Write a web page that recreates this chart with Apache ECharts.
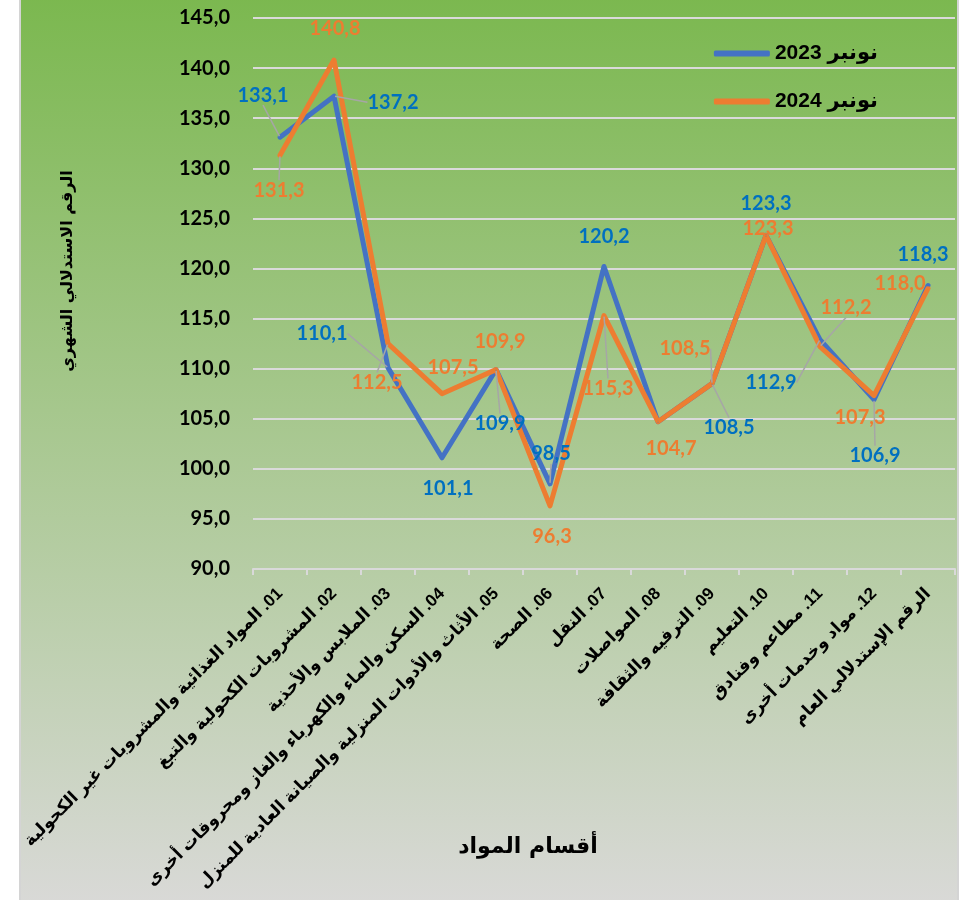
<!DOCTYPE html>
<html>
<head>
<meta charset="utf-8">
<style>
  html, body { margin: 0; padding: 0; background: #fff; }
  #chart { width: 966px; height: 900px; direction: rtl; }
</style>
<script src="https://cdn.jsdelivr.net/npm/echarts@6/dist/echarts.min.js"></script>
</head>
<body>
<div id="chart"></div>
<script>
"use strict";
// ---------------- data ----------------
var categories = [
  "01. المواد الغذائية والمشروبات غير الكحولية",
  "02. المشروبات الكحولية والتبغ",
  "03. الملابس والأحذية",
  "04. السكن والماء والكهرباء والغاز ومحروقات أخرى",
  "05. الأثاث والأدوات المنزلية والصيانة العادية للمنزل",
  "06. الصحة",
  "07. النقل",
  "08. المواصلات",
  "09. الترفيه والثقافة",
  "10. التعليم",
  "11. مطاعم وفنادق",
  "12. مواد وخدمات أخرى",
  "الرقم الإستدلالي العام"
];
var nov2023 = [133.1, 137.2, 110.1, 101.1, 109.9, 98.5, 120.2, 104.7, 108.5, 123.3, 112.9, 106.9, 118.3];
var nov2024 = [131.3, 140.8, 112.5, 107.5, 109.9, 96.3, 115.3, 104.7, 108.5, 123.3, 112.2, 107.3, 118.0];
var seriesNames = ["نونبر 2023", "نونبر 2024"];
var xTitle = 'أقسام المواد', yTitle = 'الرقم الاستدلالي الشهري';

// label placement (dx, dy from the point), hidden labels, leader lines
var off2023 = [[-17,-42],[59,6],[-66,-34],[6,31],[4,54],[1,-30],[0,-30],[0,0],[17,44],[0,-32],[-49,43],[1,56],[-5,-31]];
var off2024 = [[-1,35],[1,-32],[-11,39],[11,-26],[4,-28],[2,31],[4,73],[13,27],[-27,-35],[2,-7],[26,-39],[-14,22],[-28,-5]];
var hide2023 = [7], hide2024 = [];
var lead2023 = [0,1,2,4,5,8,10,11], lead2024 = [0,2,6,8,10];

function fmt(v){ return v.toFixed(1).replace('.', ','); }

function buildData(vals, hide, lead){
  return vals.map(function(v, i){
    return {
      value: v,
      label: { show: hide.indexOf(i) < 0 },
      labelLine: { show: lead.indexOf(i) >= 0 }
    };
  });
}

function makeSeries(name, vals, color, labelColor, offs, hide, lead){
  return {
    name: name, type: 'line', data: buildData(vals, hide, lead),
    symbol: 'circle', symbolSize: 2, showSymbol: true,
    lineStyle: { color: color, width: 5, cap: 'round', join: 'round' },
    itemStyle: { color: color },
    label: {
      show: true, position: 'inside', color: labelColor,
      fontFamily: 'Lato', fontWeight: 'bold', fontSize: 20,
      formatter: function(p){ return fmt(p.value); }
    },
    labelLine: { show: false, lineStyle: { color: '#a6a6a6', width: 1.5 } },
    labelLayout: function(p){ var o = offs[p.dataIndex]; return { dx: o[0], dy: o[1] }; },
    emphasis: { disabled: true }
  };
}

var chart = echarts.init(document.getElementById('chart'));
var option = {
  animation: false,
  graphic: [
    {
      type: 'rect', z: -10, silent: true,
      shape: { x: 20, y: -3, width: 938, height: 906 },
      style: {
        fill: new echarts.graphic.LinearGradient(0, 0, 0, 1, [
          { offset: 0, color: '#7bb84f' },
          { offset: 1, color: '#d9d9d7' }
        ]),
        stroke: '#d4d4d4', lineWidth: 2
      }
    },
    {
      type: 'text', silent: true, x: 68, y: 271, rotation: Math.PI / 2,
      style: { text: yTitle, fill: '#000', font: 'bold 16px "DejaVu Sans"', align: 'center', verticalAlign: 'middle' }
    },
    {
      type: 'text', silent: true, x: 528, y: 847,
      style: { text: xTitle, fill: '#000', font: 'bold 22px "DejaVu Sans"', align: 'center', verticalAlign: 'middle' }
    }
  ],
  legend: {
    orient: 'vertical', right: 83, top: 38, align: 'left',
    itemWidth: 56, itemHeight: 6, itemGap: 27, icon: 'roundRect',
    textStyle: { color: '#000', fontSize: 21, fontWeight: 'bold', fontFamily: '"Liberation Sans", "DejaVu Sans"' },
    data: seriesNames
  },
  grid: { left: 253, right: 11, top: 18, bottom: 331, outerBoundsMode: 'none', containLabel: false },
  xAxis: {
    type: 'category', data: categories, boundaryGap: true,
    axisLine: { lineStyle: { color: '#d9d9d9', width: 2 } },
    axisTick: { show: true, length: 6, lineStyle: { color: '#d9d9d9', width: 2 } },
    axisLabel: { interval: 0, rotate: 45, margin: 22, color: '#000', fontSize: 17, fontWeight: 'bold', fontFamily: '"Liberation Sans", "DejaVu Sans"' }
  },
  yAxis: {
    type: 'value', min: 90, max: 145, interval: 5,
    axisLine: { show: false }, axisTick: { show: false },
    splitLine: { lineStyle: { color: '#dadada', width: 2 } },
    axisLabel: { margin: 23, color: '#000', fontSize: 20, fontWeight: 'bold', fontFamily: 'Lato', formatter: fmt }
  },
  series: [
    makeSeries(seriesNames[0], nov2023, '#4472c4', '#0070c0', off2023, hide2023, lead2023),
    makeSeries(seriesNames[1], nov2024, '#ed7d31', '#ed7d31', off2024, hide2024, lead2024)
  ]
};
chart.setOption(option);
</script>
</body>
</html>
